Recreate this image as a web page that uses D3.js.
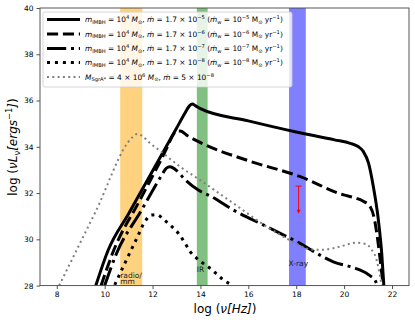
<!DOCTYPE html>
<html>
<head>
<meta charset="utf-8">
<script src="https://cdn.jsdelivr.net/npm/d3@7"></script>
<style>
  body { margin: 0; background: #fff; }
  svg { font-family: "DejaVu Sans", sans-serif; }
</style>
</head>
<body>
<svg id="chart"></svg>
<script>
const w = 415;
const h = 322;

// log frequency / log luminosity
const nu5 = [9.63, 10.15, 11.0, 12.0, 13.0, 13.35, 13.55, 13.66, 13.8, 14.0, 16.0, 18.0, 19.6, 20.26, 20.6, 20.8, 21.02, 21.22, 21.43, 21.57, 21.66];
const lum5 = [28.0, 29.54, 31.11, 32.95, 34.8, 35.45, 35.78, 35.85, 35.77, 35.65, 35.12, 34.64, 34.3, 34.15, 34.0, 33.8, 33.29, 32.28, 30.84, 29.4, 28.0];

const nu6 = [9.85, 10.35, 11.5, 12.6, 12.85, 13.0, 13.15, 13.5, 14.0, 16.0, 18.17, 19.98, 20.5, 20.8, 21.09, 21.25, 21.4, 21.52, 21.63];
const lum6 = [28.0, 29.45, 31.75, 33.95, 34.5, 34.68, 34.68, 34.45, 34.18, 33.4, 32.71, 31.92, 31.78, 31.65, 31.41, 30.95, 30.0, 29.0, 28.0];

const nu7 = [10.0, 10.5, 11.5, 12.4, 12.57, 12.73, 12.95, 13.37, 13.91, 14.47, 15.37, 16.77, 18.02, 19.55, 20.6, 20.94, 21.15, 21.29, 21.38];
const lum7 = [28.0, 29.4, 31.19, 32.8, 33.07, 33.14, 33.02, 32.57, 32.13, 31.84, 31.27, 30.55, 29.9, 29.03, 28.7, 28.53, 28.38, 28.24, 28.0];

const nu8 = [10.42, 10.84, 11.34, 11.7, 11.95, 12.17, 12.45, 12.73, 13.08, 13.36, 13.57, 13.85, 14.12, 14.4, 14.68, 14.96, 15.24, 15.35];
const lum8 = [28.03, 28.96, 30.04, 30.8, 31.05, 31.07, 30.87, 30.62, 30.26, 29.83, 29.47, 29.18, 28.96, 28.75, 28.5, 28.24, 28.07, 28.0];

const nuSgr = [8.1, 9.6, 11.15, 11.35, 11.55, 11.9, 12.32, 13.15, 14.0, 15.37, 16.77, 18.0, 18.55, 19.1, 19.7, 20.5, 20.9, 21.15, 21.36, 21.5, 21.57];
const lumSgr = [28.0, 31.15, 34.4, 34.55, 34.48, 34.15, 33.82, 33.14, 32.55, 31.56, 30.55, 29.82, 29.57, 29.55, 29.65, 29.85, 29.8, 29.55, 29.1, 28.4, 28.0];

const mdotExp = [-5, -6, -7, -8];

// observing bands [from, to] in log nu
const bandNames = ["radio/\nmm", "IR", "X-ray"];
const bandLo = [10.65, 13.85, 17.7];
const bandHi = [11.57, 14.3, 18.4];
const bandColors = ["#ffd280", "#80c080", "#8080ff"];

// upper limit at X-ray
const limitNu = 18.1;
const limitTop = 32.3;
const limitBottom = 31.15;

const xTicks = [8, 10, 12, 14, 16, 18, 20, 22];
const yTicks = [28, 30, 32, 34, 36, 38, 40];

const svg = d3.select("#chart")
  .attr("width", w)
  .attr("height", h)
  .attr("viewBox", [0, 0, w, h]);

const x = d3.scaleLinear().domain([7.3, 22.71]).range([40, 409]);
const y = d3.scaleLinear().domain([28, 40]).range([285.6, 8]);

svg.append("defs").append("clipPath").attr("id", "plotclip")
  .append("rect")
  .attr("x", 40).attr("y", 8)
  .attr("width", 369).attr("height", 277.6);

// bands
svg.append("g")
  .selectAll("rect")
  .data(bandLo)
  .enter()
  .append("rect")
  .attr("x", (d, i) => x(d))
  .attr("y", y(40))
  .attr("width", (d, i) => x(bandHi[i]) - x(d))
  .attr("height", y(28) - y(40))
  .attr("fill", (d, i) => bandColors[i]);

const series = [
  { nu: nu5, lum: lum5, color: "#000", width: 3, dash: null },
  { nu: nu6, lum: lum6, color: "#000", width: 3, dash: "11.1,4.8" },
  { nu: nu7, lum: lum7, color: "#000", width: 3, dash: "19.2,4.8,3,4.8" },
  { nu: nu8, lum: lum8, color: "#000", width: 3, dash: "3,4.95" },
  { nu: nuSgr, lum: lumSgr, color: "#808080", width: 2, dash: "2,3.3" }
];

const line = d3.line()
  .x(d => x(d[0]))
  .y(d => y(d[1]))
  .curve(d3.curveMonotoneX);

const lines = svg.append("g").attr("clip-path", "url(#plotclip)");
series.forEach(s => {
  lines.append("path")
    .datum(s.nu.map((n, i) => [n, s.lum[i]]))
    .attr("d", line)
    .attr("fill", "none")
    .attr("stroke", s.color)
    .attr("stroke-width", s.width)
    .attr("stroke-dasharray", s.dash);
});

// band labels
const labelPos = [[10.65, 278.3], [13.85, 271.7], [17.68, 265.7]];
bandNames.forEach((name, i) => {
  const t = svg.append("text")
    .attr("x", x(labelPos[i][0]))
    .attr("y", labelPos[i][1])
    .attr("font-size", 7.5)
    .attr("fill", "#222");
  name.split("\n").forEach((part, k) => {
    t.append("tspan")
      .attr("x", x(labelPos[i][0]))
      .attr("dy", k === 0 ? 0 : 5.5)
      .text(part);
  });
});

// red upper limit
const lim = svg.append("g").attr("stroke", "red").attr("stroke-width", 1);
lim.append("line")
  .attr("x1", x(limitNu)).attr("x2", x(limitNu))
  .attr("y1", y(limitTop)).attr("y2", y(limitBottom) - 2);
lim.append("line")
  .attr("x1", x(limitNu) - 3).attr("x2", x(limitNu) + 3)
  .attr("y1", y(limitTop)).attr("y2", y(limitTop));
svg.append("path")
  .attr("d", `M${x(limitNu) - 2},${y(limitBottom) - 3}L${x(limitNu) + 2},${y(limitBottom) - 3}L${x(limitNu)},${y(limitBottom) + 1}Z`)
  .attr("fill", "red");

// axes
const xAxis = svg.append("g")
  .attr("transform", `translate(0,${y(28)})`)
  .call(d3.axisBottom(x).tickValues(xTicks).tickSize(3.5).tickPadding(3).tickFormat(d3.format("d")));
const yAxis = svg.append("g")
  .attr("transform", `translate(${x(7.3)},0)`)
  .call(d3.axisLeft(y).tickValues(yTicks).tickSize(3.5).tickPadding(3).tickFormat(d3.format("d")));
[xAxis, yAxis].forEach(a => {
  a.select(".domain").remove();
  a.selectAll("line").attr("stroke", "#555");
  a.selectAll("text").attr("font-size", 7.5).attr("fill", "#000")
    .attr("font-family", "DejaVu Sans, sans-serif");
});

svg.append("rect")
  .attr("x", 40).attr("y", 8)
  .attr("width", 369).attr("height", 277.6)
  .attr("fill", "none")
  .attr("stroke", "#444")
  .attr("stroke-width", 0.9);

// mathtext-ish helper: parts are [text, kind]
function mathText(sel, parts, size) {
  let shift = 0;
  sel.attr("font-size", size);
  parts.forEach(p => {
    const kind = p[1] || "n";
    let want = 0;
    if (kind === "sub") want = size * 0.25;
    if (kind === "sup") want = -size * 0.4;
    sel.append("tspan")
      .attr("dy", want - shift)
      .attr("font-size", (kind === "sub" || kind === "sup") ? size * 0.7 : size)
      .attr("font-style", kind === "i" ? "italic" : null)
      .text(p[0]);
    shift = want;
  });
}

// legend
const legend = svg.append("g");
legend.append("rect")
  .attr("x", 43).attr("y", 12)
  .attr("width", 249).attr("height", 75)
  .attr("rx", 2)
  .attr("fill", "white")
  .attr("fill-opacity", 0.8)
  .attr("stroke", "#ccc")
  .attr("stroke-width", 0.8);

const rowY = [19.5, 34, 48.5, 62.5, 77];
series.forEach((s, i) => {
  legend.append("line")
    .attr("x1", 47).attr("x2", 80)
    .attr("y1", rowY[i]).attr("y2", rowY[i])
    .attr("stroke", s.color)
    .attr("stroke-width", s.width)
    .attr("stroke-dasharray", s.dash);
  const t = legend.append("text")
    .attr("x", 85)
    .attr("y", rowY[i] + 2.6)
    .attr("fill", "#000");
  let parts;
  if (i < 4) {
    const e = String(mdotExp[i]).replace("-", "\u2212");
    parts = [["m", "i"], ["IMBH", "sub"], [" = 10"], ["4", "sup"], [" "], ["M", "i"], ["\u2299", "sub"],
      [", "], ["\u1e41", "i"], [" = 1.7 \u00d7 10"], [e, "sup"], [" ("], ["\u1e41", "i"], ["w", "sub"],
      [" = 10"], [e, "sup"], [" M"], ["\u2299", "sub"], [" yr"], ["\u22121", "sup"], [")"]];
  } else {
    parts = [["M", "i"], ["SgrA*", "sub"], [" = 4 \u00d7 10"], ["6", "sup"], [" "], ["M", "i"], ["\u2299", "sub"],
      [", "], ["\u1e41", "i"], [" = 5 \u00d7 10"], ["\u22128", "sup"]];
  }
  mathText(t, parts, 7.4);
});

// axis labels
const xl = svg.append("text")
  .attr("x", 225)
  .attr("y", 313)
  .attr("text-anchor", "middle")
  .attr("fill", "#000");
mathText(xl, [["log ("], ["\u03bd[Hz]", "i"], [")"]], 12);

const yl = svg.append("text")
  .attr("transform", "translate(17,147) rotate(-90)")
  .attr("text-anchor", "middle")
  .attr("fill", "#000");
mathText(yl, [["log ("], ["\u03bdL", "i"], ["\u03bd", "sub"], ["[ergs", "i"], ["\u22121", "sup"], ["]", "i"], [")"]], 12);
</script>
</body>
</html>
